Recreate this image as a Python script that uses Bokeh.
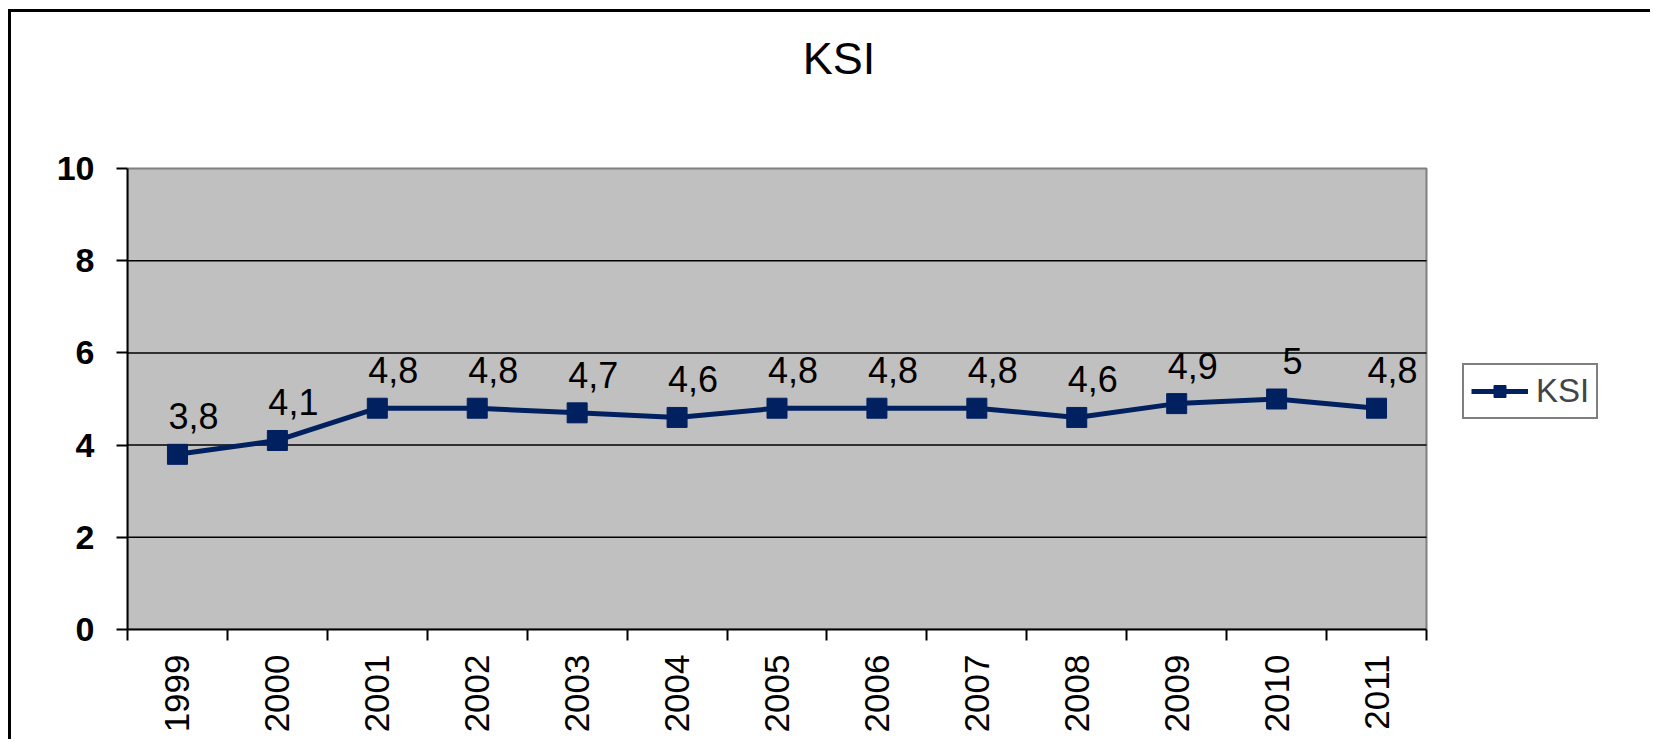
import math
from bokeh.plotting import figure
from bokeh.models import Range1d, FixedTicker, Legend, LegendItem, Label
from bokeh.core.properties import value
from bokeh.embed import file_html
from bokeh.resources import INLINE

# ---- data ----
years = ["1999", "2000", "2001", "2002", "2003", "2004", "2005",
         "2006", "2007", "2008", "2009", "2010", "2011"]
ksi = [3.8, 4.1, 4.8, 4.8, 4.7, 4.6, 4.8, 4.8, 4.8, 4.6, 4.9, 5.0, 4.8]
y_ticks = [0, 2, 4, 6, 8, 10]
series_name = "KSI"
title_text = "KSI"

FONT = "Liberation Sans"
NAVY = "#002060"
GRAY = "#c0c0c0"

# ---- layout (pixels) ----
FIG_W, FIG_H = 1642, 730
BORDER_L, BORDER_B = 116, 113
PLOT_W, PLOT_H = 1299, 461          # grey plot area
FRAME_W = FIG_W - BORDER_L
FRAME_H = FIG_H - BORDER_B

n = len(years)
x = list(range(1, n + 1))
labels = [f"{v:g}".replace(".", ",") for v in ksi]

x0, x1 = 0.5, n + 0.5
y0, y1 = y_ticks[0], y_ticks[-1]
x_end = x0 + (x1 - x0) * FRAME_W / PLOT_W
y_end = y0 + (y1 - y0) * FRAME_H / PLOT_H

p = figure(width=FIG_W, height=FIG_H,
           x_range=Range1d(x0, x_end), y_range=Range1d(y0, y_end),
           output_backend="svg", toolbar_location=None,
           min_border_left=BORDER_L, min_border_right=0,
           min_border_top=0, min_border_bottom=BORDER_B)
p.margin = (12, 0, 0, 11)
p.styles = {"box-shadow": "-3px -3px 0 0 #000"}

p.background_fill_color = "white"
p.border_fill_color = "white"
p.outline_line_color = None
p.xgrid.visible = False
p.ygrid.visible = False

# grey plot area
p.quad(left=[x0], right=[x1], bottom=[y0], top=[y1],
       fill_color=GRAY, line_color="#808080", line_width=2, level="underlay")

# horizontal grid lines
gy = y_ticks[1:-1]
p.segment(x0=[x0] * len(gy), x1=[x1] * len(gy), y0=gy, y1=gy,
          line_color="black", line_width=1.5)

# x axis
xa = p.xaxis[0]
xa.bounds = (x0, x1)
xa.ticker = FixedTicker(ticks=x, minor_ticks=[i + 0.5 for i in range(0, n + 1)])
xa.major_label_overrides = {i: yv for i, yv in zip(x, years)}
xa.major_tick_line_color = None
xa.major_tick_out = 11
xa.major_tick_in = 0
xa.minor_tick_out = 11
xa.minor_tick_in = 0
xa.minor_tick_line_color = "black"
xa.minor_tick_line_width = 2
xa.axis_line_color = "black"
xa.axis_line_width = 2
xa.major_label_orientation = math.pi / 2
xa.major_label_standoff = 14
xa.major_label_text_font = FONT
xa.major_label_text_font_size = "35px"
xa.major_label_text_color = "black"

# y axis
ya = p.yaxis[0]
ya.bounds = (y0, y1)
ya.ticker = FixedTicker(ticks=y_ticks)
ya.major_tick_out = 11
ya.major_tick_in = 0
ya.major_tick_line_width = 2
ya.major_tick_line_color = "black"
ya.minor_tick_line_color = None
ya.axis_line_color = "black"
ya.axis_line_width = 2
ya.major_label_standoff = 22
ya.major_label_text_font = FONT
ya.major_label_text_font_size = "34px"
ya.major_label_text_font_style = "bold"
ya.major_label_text_color = "black"

# series
line_r = p.line(x, ksi, line_color=NAVY, line_width=5)
sc_r = p.scatter(x, ksi, marker="square", size=20, fill_color=NAVY, line_color=NAVY)

p.text(x=x, y=ksi, text=labels, x_offset=16, y_offset=-38,
       text_align="center", text_baseline="alphabetic",
       text_font=value(FONT), text_font_size="36px", text_color="black")

# title (placed in the white area above the plot)
title = Label(x=x0 + (x1 - x0) * (838.5 - 127) / PLOT_W,
              y=y0 + (y1 - y0) * (629 - 58) / PLOT_H,
              text=title_text, text_align="center", text_baseline="middle",
              text_font=FONT, text_font_size="45px", text_color="black")
p.add_layout(title)

legend = Legend(items=[LegendItem(label=series_name, renderers=[line_r, sc_r])],
                location=(1335, 210))
legend.border_line_color = "black"
legend.border_line_width = 2
legend.background_fill_color = "white"
legend.background_fill_alpha = 1
legend.padding = 7
legend.margin = 0
legend.spacing = 0
legend.label_text_font = FONT
legend.label_text_font_size = "33px"
legend.glyph_width = 57
legend.glyph_height = 30
legend.label_height = 30
legend.label_standoff = 8
p.add_layout(legend)

open("out.html", "w").write(file_html(p, INLINE))
